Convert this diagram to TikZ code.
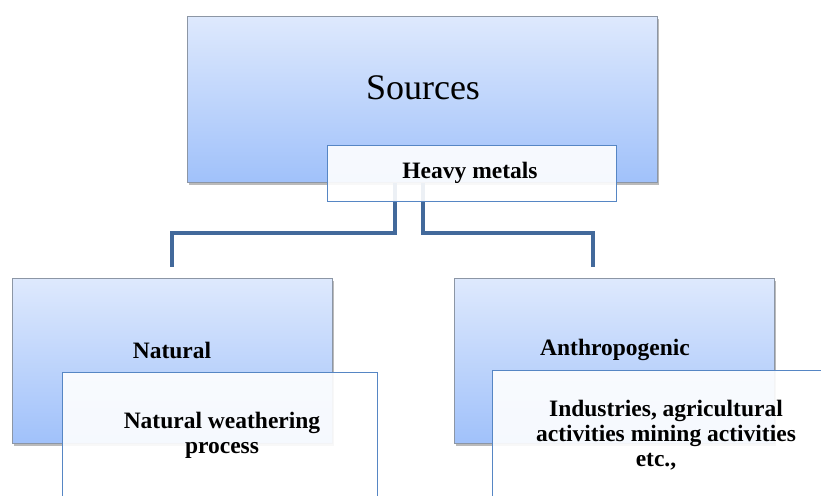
\documentclass[tikz,border=0pt]{standalone}
\usepackage{fontspec}
\setmainfont{Liberation Serif}
\usetikzlibrary{shadows}
\definecolor{gradtop}{RGB}{222,233,253}
\definecolor{gradbot}{RGB}{160,193,250}
\definecolor{gradedge}{RGB}{140,150,165}
\definecolor{whiteedge}{RGB}{86,134,196}
\definecolor{connc}{RGB}{66,105,155}
\tikzset{
  gradbox/.style={draw=gradedge, line width=0.8pt, top color=gradtop, bottom color=gradbot,
    drop shadow={shadow xshift=2pt, shadow yshift=-3pt, opacity=0.45, fill=black!60},
    anchor=north west, inner sep=0pt},
  whitebox/.style={draw=whiteedge, line width=1.2pt, fill=white, fill opacity=0.9, text opacity=1,
    anchor=north west, inner sep=0pt},
  conn/.style={draw=connc, line width=4pt},
  bigtxt/.style={font=\fontsize{36}{40}\selectfont},
  bold/.style={font=\fontsize{23.5}{25}\selectfont\bfseries, align=center, inner sep=0pt}
}
\begin{document}
\begin{tikzpicture}[x=1pt, y=-1pt]
\clip (0,0) rectangle (821,495);
\fill[white] (0,0) rectangle (821,495);
% top box
\node[gradbox, minimum width=470pt, minimum height=166pt] (src) at (187,16) {};
\node[bigtxt] (srct) at (423,88) {Sources};
% connectors
\coordinate (jl) at (395,233);
\coordinate (jr) at (423,233);
\node[gradbox, minimum width=320pt, minimum height=165pt] (nat) at (12,278) {};
\node[gradbox, minimum width=320pt, minimum height=165pt] (ant) at (454,278) {};
\draw[conn] (src.south -| jl) -- (jl) -| ([yshift=11pt]nat.north);
\draw[conn] (src.south -| jr) -- (jr) -| ([xshift=-21pt,yshift=11pt]ant.north);
% heavy metals box
\node[whitebox, minimum width=289pt, minimum height=56pt] (hm) at (327,145) {};
\node[bold] (hmt) at (470,173) {Heavy metals};
% bottom labels
\node[bold] (natt) at (172,350) {Natural};
\node[bold] (antt) at (615,350) {Anthropogenic};
% lower white boxes
\node[whitebox, minimum width=315pt, minimum height=160pt] (nw) at (62,372) {};
\node[bold] (nwt) at (222,435) {Natural weathering\\process};
\node[whitebox, minimum width=340pt, minimum height=160pt] (ind) at (492,370) {};
\node[bold] (indt) at (666,435) {Industries, agricultural\\activities mining activities\\etc.,\hspace*{20pt}};
\end{tikzpicture}
\end{document}
